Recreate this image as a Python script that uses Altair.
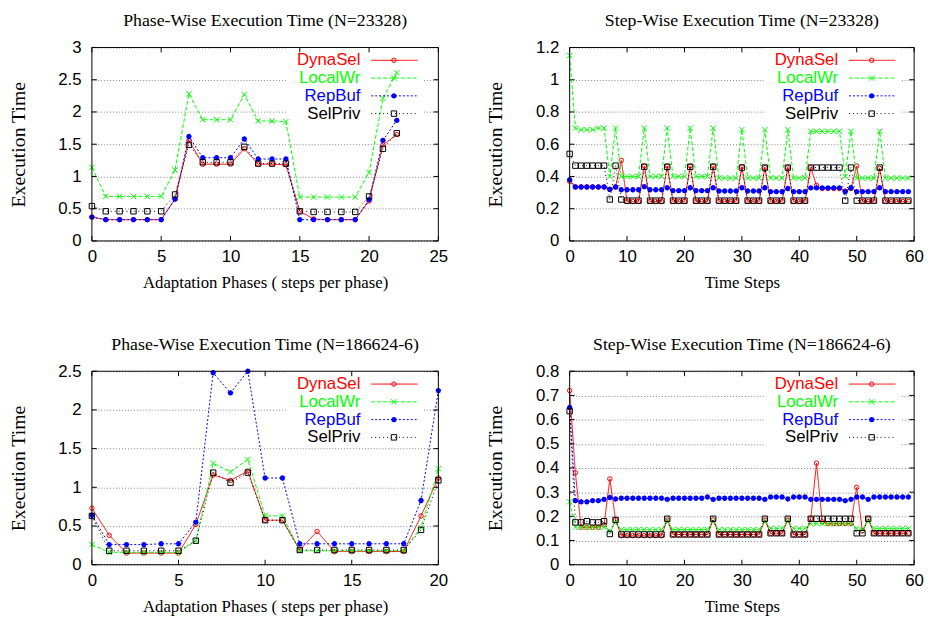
import altair as alt
import pandas as pd

SERIES = ["DynaSel", "LocalWr", "RepBuf", "SelPriv"]
COLORS = ["#ff0000", "#00ff00", "#0000ff", "#000000"]
DASHES = [[1, 0], [4, 2], [2, 2], [1, 3]]
SHAPES = ["circle", "M-1,-1L1,1M-1,1L1,-1",
          "M-1,0L1,0M0,-1L0,1M-0.7,-0.7L0.7,0.7M-0.7,0.7L0.7,-0.7", "square"]
SIZES = [20, 30, 30, 30]
MSTROKE = [1, 1, 1.6, 1]

# ---------------- Panel 1: Phase-Wise (N=23328) ----------------
p1_x = list(range(23))
p1_dynasel = [0.37, 0.33, 0.33, 0.33, 0.33, 0.33, 0.65, 1.56, 1.19, 1.19, 1.19, 1.43, 1.19, 1.19, 1.18,
              0.46, 0.34, 0.33, 0.33, 0.33, 0.62, 1.49, 1.65]
p1_localwr = [1.14, 0.69, 0.69, 0.69, 0.69, 0.69, 1.10, 2.28, 1.88, 1.88, 1.88, 2.27, 1.86, 1.86, 1.85,
              0.68, 0.68, 0.68, 0.68, 0.68, 1.06, 2.21, 2.61]
p1_repbuf = [0.37, 0.33, 0.33, 0.33, 0.33, 0.33, 0.65, 1.62, 1.29, 1.29, 1.29, 1.58, 1.27, 1.27, 1.27,
             0.33, 0.33, 0.33, 0.33, 0.33, 0.64, 1.56, 1.87]
p1_selpriv = [0.54, 0.46, 0.46, 0.46, 0.46, 0.46, 0.72, 1.49, 1.22, 1.22, 1.22, 1.46, 1.20, 1.20, 1.20,
              0.46, 0.45, 0.45, 0.45, 0.45, 0.69, 1.43, 1.67]

# ---------------- Panel 2: Step-Wise (N=23328) ----------------
p2_x = list(range(60))
p2_dynasel = [0.37, 0.335, 0.335, 0.335, 0.335, 0.335, 0.335, 0.32, 0.335, 0.50,
              0.245, 0.245, 0.245, 0.465, 0.245, 0.245, 0.245, 0.465, 0.245, 0.245,
              0.245, 0.465, 0.245, 0.245, 0.245, 0.465, 0.245, 0.245, 0.245, 0.245,
              0.46, 0.245, 0.245, 0.245, 0.455, 0.245, 0.245, 0.245, 0.455, 0.245,
              0.245, 0.245, 0.455, 0.345, 0.325, 0.325, 0.325, 0.325, 0.31, 0.325,
              0.465, 0.245, 0.245, 0.245, 0.45, 0.245, 0.245, 0.245, 0.245, 0.245]
p2_localwr = [1.15, 0.70, 0.69, 0.69, 0.69, 0.70, 0.70, 0.40, 0.70, 0.40,
              0.40, 0.40, 0.40, 0.70, 0.40, 0.40, 0.40, 0.70, 0.40, 0.40,
              0.40, 0.70, 0.40, 0.40, 0.40, 0.70, 0.39, 0.39, 0.39, 0.39,
              0.69, 0.39, 0.39, 0.39, 0.69, 0.39, 0.39, 0.39, 0.69, 0.39,
              0.39, 0.39, 0.68, 0.68, 0.68, 0.68, 0.68, 0.68, 0.40, 0.68,
              0.39, 0.39, 0.39, 0.39, 0.68, 0.39, 0.39, 0.39, 0.39, 0.39]
p2_repbuf = [0.38, 0.335, 0.335, 0.335, 0.335, 0.335, 0.335, 0.32, 0.335, 0.318,
             0.318, 0.318, 0.318, 0.337, 0.318, 0.318, 0.318, 0.33, 0.312, 0.312,
             0.312, 0.33, 0.312, 0.312, 0.312, 0.33, 0.31, 0.31, 0.31, 0.31,
             0.33, 0.31, 0.31, 0.31, 0.33, 0.306, 0.306, 0.306, 0.325, 0.306,
             0.306, 0.306, 0.329, 0.329, 0.329, 0.329, 0.329, 0.329, 0.306, 0.33,
             0.306, 0.306, 0.306, 0.306, 0.33, 0.306, 0.306, 0.306, 0.306, 0.306]
p2_selpriv = [0.54, 0.467, 0.467, 0.467, 0.467, 0.467, 0.467, 0.257, 0.467, 0.257,
              0.25, 0.25, 0.25, 0.46, 0.25, 0.25, 0.25, 0.46, 0.25, 0.25,
              0.25, 0.46, 0.25, 0.25, 0.25, 0.46, 0.25, 0.25, 0.25, 0.25,
              0.455, 0.25, 0.25, 0.25, 0.455, 0.25, 0.25, 0.25, 0.455, 0.25,
              0.25, 0.25, 0.455, 0.455, 0.455, 0.455, 0.455, 0.455, 0.25, 0.455,
              0.25, 0.25, 0.25, 0.25, 0.455, 0.25, 0.25, 0.25, 0.25, 0.25]

# ---------------- Panel 3: Phase-Wise (N=186624-6) ----------------
p3_x = list(range(21))
p3_dynasel = [0.73, 0.38, 0.15, 0.15, 0.15, 0.15, 0.52, 1.16, 1.09, 1.21, 0.575,
              0.575, 0.19, 0.43, 0.17, 0.17, 0.17, 0.17, 0.17, 0.63, 1.12]
p3_localwr = [0.26, 0.16, 0.16, 0.16, 0.16, 0.16, 0.31, 1.31, 1.20, 1.36, 0.63,
              0.63, 0.18, 0.18, 0.18, 0.18, 0.18, 0.18, 0.18, 0.48, 1.24]
p3_repbuf = [0.64, 0.26, 0.26, 0.26, 0.27, 0.27, 0.55, 2.48, 2.22, 2.50, 1.12,
             1.12, 0.27, 0.27, 0.27, 0.27, 0.27, 0.27, 0.27, 0.83, 2.25]
p3_selpriv = [0.63, 0.18, 0.18, 0.18, 0.18, 0.18, 0.31, 1.19, 1.06, 1.19, 0.575,
              0.575, 0.19, 0.19, 0.19, 0.19, 0.19, 0.19, 0.19, 0.45, 1.09]

# ---------------- Panel 4: Step-Wise (N=186624-6) ----------------
p4_x = list(range(60))
p4_dynasel = [0.72, 0.38, 0.155, 0.155, 0.155, 0.155, 0.165, 0.355, 0.185, 0.12,
              0.12, 0.12, 0.12, 0.12, 0.12, 0.12, 0.12, 0.185, 0.125, 0.125,
              0.125, 0.125, 0.125, 0.125, 0.125, 0.185, 0.125, 0.125, 0.125, 0.125,
              0.125, 0.125, 0.125, 0.125, 0.185, 0.13, 0.13, 0.13, 0.185, 0.125,
              0.125, 0.125, 0.19, 0.42, 0.177, 0.17, 0.17, 0.17, 0.17, 0.17,
              0.32, 0.14, 0.19, 0.13, 0.13, 0.13, 0.13, 0.13, 0.13, 0.13]
p4_localwr = [0.26, 0.155, 0.155, 0.155, 0.155, 0.155, 0.155, 0.14, 0.175, 0.145,
              0.145, 0.145, 0.145, 0.145, 0.145, 0.145, 0.145, 0.18, 0.145, 0.145,
              0.145, 0.145, 0.145, 0.145, 0.145, 0.18, 0.145, 0.145, 0.145, 0.145,
              0.145, 0.145, 0.145, 0.145, 0.18, 0.15, 0.15, 0.15, 0.18, 0.15,
              0.15, 0.15, 0.17, 0.17, 0.17, 0.17, 0.17, 0.17, 0.17, 0.17,
              0.15, 0.145, 0.18, 0.15, 0.15, 0.15, 0.15, 0.15, 0.15, 0.15]
p4_repbuf = [0.65, 0.265, 0.26, 0.26, 0.265, 0.265, 0.27, 0.278, 0.272, 0.275,
             0.275, 0.275, 0.275, 0.275, 0.275, 0.275, 0.275, 0.27, 0.275, 0.275,
             0.275, 0.275, 0.275, 0.275, 0.28, 0.27, 0.275, 0.275, 0.275, 0.275,
             0.275, 0.275, 0.275, 0.275, 0.27, 0.28, 0.28, 0.28, 0.272, 0.28,
             0.28, 0.28, 0.27, 0.27, 0.27, 0.27, 0.27, 0.27, 0.265, 0.27,
             0.28, 0.28, 0.27, 0.28, 0.28, 0.28, 0.28, 0.28, 0.28, 0.28]
p4_selpriv = [0.635, 0.175, 0.175, 0.18, 0.175, 0.175, 0.18, 0.127, 0.185, 0.125,
              0.125, 0.125, 0.125, 0.125, 0.125, 0.125, 0.125, 0.19, 0.125, 0.125,
              0.125, 0.125, 0.125, 0.125, 0.125, 0.19, 0.125, 0.125, 0.125, 0.125,
              0.125, 0.125, 0.125, 0.125, 0.19, 0.13, 0.13, 0.13, 0.19, 0.125,
              0.125, 0.125, 0.19, 0.19, 0.19, 0.19, 0.19, 0.19, 0.19, 0.19,
              0.13, 0.13, 0.19, 0.13, 0.13, 0.13, 0.13, 0.13, 0.13, 0.13]

H = 196
TICK = 5
LEG_ROWS = [13, 31, 49, 67]
SANS = "Liberation Sans"
SERIF = "Liberation Serif"
LABEL_EXPR = "'' + datum.value"


def panel(title, xtitle, xs, vals, xdom, xticks, ydom, yticks, W):
    X = alt.X("x:Q", scale=alt.Scale(domain=xdom, nice=False, zero=False),
              axis=alt.Axis(values=xticks, title=xtitle, labelExpr=LABEL_EXPR, grid=False,
                            ticks=False, tickSize=0, domain=False, labelFlush=False,
                            labelPadding=8, titlePadding=10, titleFontSize=17))
    Y = alt.Y("y:Q", scale=alt.Scale(domain=ydom, nice=False, zero=False),
              axis=alt.Axis(values=yticks, title="Execution Time", labelExpr=LABEL_EXPR, grid=True,
                            ticks=False, tickSize=0, domain=False, labelPadding=11,
                            titlePadding=30, titleFontSize=20))
    one = pd.DataFrame({"k": [0]})
    layers = []
    for i, name in enumerate(SERIES):
        df = pd.DataFrame({"x": xs, "y": vals[i]})
        layers.append(alt.Chart(df).mark_line(color=COLORS[i], strokeWidth=1,
                                              strokeDash=DASHES[i]).encode(x=X, y=Y))
        layers.append(alt.Chart(df).mark_point(color=COLORS[i], shape=SHAPES[i], filled=False,
                                               size=SIZES[i], strokeWidth=MSTROKE[i],
                                               opacity=1).encode(x=X, y=Y))
    box = alt.Chart(one).mark_rect(color="white").encode(
        x=alt.value(198), x2=alt.value(336), y=alt.value(0), y2=alt.value(77))
    ydf = pd.DataFrame({"y": yticks})
    xdf = pd.DataFrame({"x": xticks})
    tk = [
        alt.Chart(ydf).mark_rule(color="black").encode(y=Y, x=alt.value(0), x2=alt.value(TICK)),
        alt.Chart(ydf).mark_rule(color="black").encode(y=Y, x=alt.value(W - TICK), x2=alt.value(W)),
        alt.Chart(xdf).mark_rule(color="black").encode(x=X, y=alt.value(H), y2=alt.value(H - TICK)),
        alt.Chart(xdf).mark_rule(color="black").encode(x=X, y=alt.value(0), y2=alt.value(TICK)),
    ]
    leg = []
    for i, name in enumerate(SERIES):
        r = LEG_ROWS[i]
        leg.append(alt.Chart(one).mark_text(align="right", baseline="middle", font=SANS,
                                            fontSize=17, color=COLORS[i]).encode(
            x=alt.value(272), y=alt.value(r), text=alt.value(name)))
        leg.append(alt.Chart(one).mark_rule(color=COLORS[i], strokeWidth=1,
                                            strokeDash=DASHES[i]).encode(
            x=alt.value(283), x2=alt.value(330), y=alt.value(r)))
        leg.append(alt.Chart(one).mark_point(color=COLORS[i], shape=SHAPES[i], filled=False,
                                             size=SIZES[i], strokeWidth=MSTROKE[i],
                                             opacity=1).encode(
            x=alt.value(306), y=alt.value(r)))
    frame = alt.Chart(one).mark_rect(fillOpacity=0, stroke="black", strokeWidth=1).encode(
        x=alt.value(0), x2=alt.value(W), y=alt.value(0), y2=alt.value(H))
    return alt.layer(box, *tk, *layers, *leg, frame).properties(
        width=W, height=H,
        title=alt.Title(title, font=SERIF, fontSize=18, fontWeight="normal", offset=9))


c1 = panel("Phase-Wise Execution Time (N=23328)", "Adaptation Phases ( steps per phase)",
           p1_x, [p1_dynasel, p1_localwr, p1_repbuf, p1_selpriv],
           [0, 25], [0, 5, 10, 15, 20, 25], [0, 3], [0, 0.5, 1, 1.5, 2, 2.5, 3], 351)
c2 = panel("Step-Wise Execution Time (N=23328)", "Time Steps",
           p2_x, [p2_dynasel, p2_localwr, p2_repbuf, p2_selpriv],
           [0, 60], [0, 10, 20, 30, 40, 50, 60], [0, 1.2], [0, 0.2, 0.4, 0.6, 0.8, 1, 1.2], 349)
c3 = panel("Phase-Wise Execution Time (N=186624-6)", "Adaptation Phases ( steps per phase)",
           p3_x, [p3_dynasel, p3_localwr, p3_repbuf, p3_selpriv],
           [0, 20], [0, 5, 10, 15, 20], [0, 2.5], [0, 0.5, 1, 1.5, 2, 2.5], 351)
c4 = panel("Step-Wise Execution Time (N=186624-6)", "Time Steps",
           p4_x, [p4_dynasel, p4_localwr, p4_repbuf, p4_selpriv],
           [0, 60], [0, 10, 20, 30, 40, 50, 60], [0, 0.8],
           [0, 0.1, 0.2, 0.3, 0.4, 0.5, 0.6, 0.7, 0.8], 349)

chart = alt.vconcat(
    alt.hconcat(c1, c2, spacing=38),
    alt.hconcat(c3, c4, spacing=38),
    spacing=46,
).properties(padding=0, background="white").configure_view(stroke=None).configure_axis(
    labelFont=SANS, labelFontSize=17, labelColor="black",
    titleFont=SERIF, titleFontWeight="normal", titleColor="black",
    gridColor="#808080", gridDash=[1, 2], gridWidth=1,
)

chart.save("out.html", embed_options={"renderer": "svg", "actions": False})
